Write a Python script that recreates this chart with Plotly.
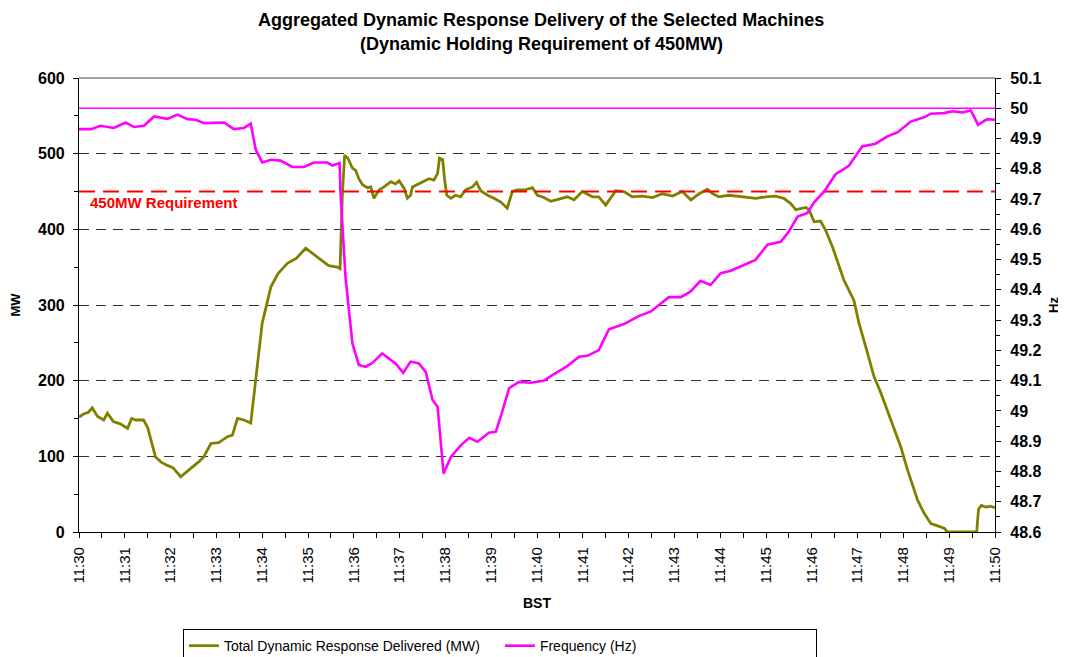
import pandas as pd
import plotly.graph_objects as go

# ---- data (minutes after 11:30 BST) ----
mw_minutes = [0.00, 0.10, 0.20, 0.29, 0.40, 0.54, 0.62, 0.75, 0.90, 1.06, 1.15, 1.24, 1.41, 1.50, 1.67,
              1.80, 1.93, 2.05, 2.22, 2.33, 2.44, 2.60, 2.72, 2.88, 3.05, 3.24, 3.35, 3.46, 3.60, 3.75,
              3.86, 4.00, 4.19, 4.35, 4.55, 4.75, 4.95, 5.10, 5.28, 5.45, 5.64, 5.70, 5.75,
              5.80, 5.87, 5.97, 6.04, 6.11, 6.19, 6.30, 6.37, 6.44, 6.55, 6.66, 6.81, 6.91, 6.99,
              7.10, 7.17, 7.24, 7.28, 7.42, 7.53, 7.64, 7.75, 7.83, 7.87, 7.94, 7.98, 8.03, 8.12,
              8.22, 8.33, 8.44, 8.59, 8.68, 8.77, 8.92, 9.06, 9.21, 9.35, 9.46, 9.57, 9.72, 9.90,
              10.01, 10.15, 10.30, 10.48, 10.66, 10.81, 10.99, 11.21, 11.35, 11.50, 11.65, 11.72,
              11.90, 12.08, 12.30, 12.52, 12.74, 12.96, 13.17, 13.36, 13.54, 13.72, 13.84, 13.97,
              14.19, 14.48, 14.78, 14.99, 15.21, 15.39, 15.54, 15.65, 15.87, 15.94, 16.01, 16.05,
              16.19, 16.30, 16.45, 16.70, 16.92, 17.03, 17.20, 17.36, 17.50, 17.65, 17.80, 17.94,
              18.09, 18.20, 18.31, 18.45, 18.60, 18.75, 18.89, 18.96, 19.30, 19.60, 19.64, 19.70,
              19.80, 19.90, 20.00]
mw_values = [152, 156, 158, 164, 153, 148, 157, 146, 143, 137, 150, 148, 148, 138, 99,
             92, 88, 85, 73, 78, 84, 92, 99, 117, 118, 126, 128, 150, 148, 144,
             205, 276, 324, 342, 355, 362, 375, 368, 359, 352, 350, 348, 445,
             498, 494, 481, 478, 467, 459, 455, 456, 441, 452, 456, 463, 460, 464,
             454, 441, 445, 456, 460, 464, 467, 465, 474, 494, 492, 467, 445, 441,
             445, 443, 452, 456, 462, 451, 445, 441, 436, 428, 450, 452, 452, 455,
             445, 442, 437, 440, 443, 439, 450, 443, 443, 432, 445, 451,
             450, 443, 444, 442, 447, 444, 450, 439, 447, 453, 447, 443,
             445, 443, 441, 443, 444, 441, 434, 426, 429, 426, 417, 410,
             411, 399, 377, 333, 306, 276, 240, 205, 185, 161, 138, 113,
             82, 62, 42, 25, 11, 8, 5, 0, 0, 0, 30, 35,
             33, 34, 32]

hz_minutes = [0.00, 0.26, 0.47, 0.76, 1.02, 1.20, 1.42, 1.64, 1.93, 2.15, 2.37, 2.55, 2.73, 3.17, 3.38,
              3.60, 3.75, 3.86, 4.00, 4.19, 4.40, 4.66, 4.91, 5.13, 5.42, 5.53, 5.69, 5.71, 5.82, 5.97,
              6.11, 6.26, 6.41, 6.62, 6.91, 7.08, 7.24, 7.42, 7.57, 7.72, 7.83, 7.96, 8.12, 8.34, 8.52,
              8.70, 8.95, 9.10, 9.24, 9.39, 9.61, 9.86, 10.15, 10.37, 10.66, 10.92, 11.10, 11.35, 11.57,
              11.90, 12.23, 12.48, 12.88, 13.14, 13.35, 13.57, 13.79, 14.01, 14.23, 14.52, 14.77, 15.03,
              15.32, 15.50, 15.69, 15.90, 16.05, 16.27, 16.52, 16.81, 17.10, 17.39, 17.65, 17.87, 18.16,
              18.45, 18.60, 18.89, 19.07, 19.29, 19.47, 19.54, 19.63, 19.83, 20.00]
hz_values = [49.931, 49.931, 49.942, 49.935, 49.953, 49.938, 49.942, 49.973, 49.965, 49.979, 49.964,
             49.962, 49.951, 49.953, 49.931, 49.935, 49.949, 49.863, 49.821, 49.830, 49.827, 49.806,
             49.806, 49.821, 49.821, 49.811, 49.819, 49.720, 49.440, 49.223, 49.152, 49.146, 49.159,
             49.190, 49.157, 49.126, 49.163, 49.157, 49.129, 49.036, 49.014, 48.793, 48.848, 48.887,
             48.911, 48.898, 48.928, 48.931, 48.997, 49.075, 49.096, 49.093, 49.100, 49.122, 49.148,
             49.179, 49.182, 49.201, 49.270, 49.287, 49.314, 49.328, 49.376, 49.376, 49.394, 49.430,
             49.416, 49.455, 49.463, 49.482, 49.499, 49.549, 49.559, 49.593, 49.642, 49.653, 49.689,
             49.725, 49.782, 49.810, 49.874, 49.883, 49.907, 49.920, 49.956, 49.970, 49.982, 49.984,
             49.990, 49.986, 49.993, 49.973, 49.945, 49.964, 49.962]

requirement_mw = 450
nominal_hz = 50.0
start_time = "2008-05-27 11:30:00"
end_time = "2008-05-27 11:50:00"
title_line1 = "Aggregated Dynamic Response Delivery of the Selected Machines"
title_line2 = "(Dynamic Holding Requirement of 450MW)"

base = pd.Timestamp(start_time)
mw_t = [base + pd.Timedelta(minutes=m) for m in mw_minutes]
hz_t = [base + pd.Timedelta(minutes=m) for m in hz_minutes]

FONT = "Liberation Sans, Arial, sans-serif"

fig = go.Figure()
fig.add_trace(go.Scatter(x=mw_t, y=mw_values, mode="lines", name="Total Dynamic Response Delivered (MW)",
                         line=dict(color="#808000", width=2.8), yaxis="y"))
fig.add_trace(go.Scatter(x=hz_t, y=hz_values, mode="lines", name="Frequency (Hz)",
                         line=dict(color="#FF00FF", width=2.6), yaxis="y2"))
# 450 MW requirement line
fig.add_trace(go.Scatter(x=[base, pd.Timestamp(end_time)], y=[requirement_mw, requirement_mw], mode="lines",
                         line=dict(color="#FF0000", width=2, dash="16px,8px"), showlegend=False,
                         hoverinfo="skip", yaxis="y"))
# 50 Hz nominal line
fig.add_trace(go.Scatter(x=[base, pd.Timestamp(end_time)], y=[nominal_hz, nominal_hz], mode="lines",
                         line=dict(color="#FF00FF", width=1.5), showlegend=False,
                         hoverinfo="skip", yaxis="y2"))

fig.update_layout(
    width=1058, height=649,
    margin=dict(l=71, r=71, t=70, b=125),
    paper_bgcolor="white", plot_bgcolor="white",
    font=dict(family=FONT, color="black"),
    xaxis=dict(type="date", range=[start_time, end_time], tickformat="%H:%M", dtick=60000,
               tick0=start_time, tickangle=-90, ticks="outside", ticklen=5, tickcolor="black",
               ticklabelstandoff=3,
               tickfont=dict(size=15), showline=True, linecolor="black", linewidth=1.2,
               showgrid=False, zeroline=False, automargin=False,
               minor=dict(dtick=30000, ticks="outside", ticklen=5, tickcolor="black", showgrid=False),
               title=dict(text="<b>BST</b>", font=dict(size=14), standoff=15)),
    yaxis=dict(range=[0, 600], dtick=100, ticks="outside", ticklen=5, tickcolor="black",
               ticklabelstandoff=5,
               tickfont=dict(size=16, family=FONT, weight="bold"), showline=True, linecolor="black",
               linewidth=1.2, showgrid=True, gridcolor="#333333", griddash="10px,7px", gridwidth=1,
               zeroline=False, automargin=False,
               minor=dict(dtick=50, ticks="outside", ticklen=4, tickcolor="black", showgrid=False),
               title=dict(text="<b>MW</b>", font=dict(size=13), standoff=14)),
    yaxis2=dict(range=[48.6, 50.1], dtick=0.1, overlaying="y", side="right", ticks="outside", ticklen=5,
                ticklabelstandoff=6,
                tickcolor="black", tickfont=dict(size=16, family=FONT, weight="bold"), showline=True,
                linecolor="black", linewidth=1.2, showgrid=False, zeroline=False, automargin=False,
                minor=dict(dtick=0.05, ticks="outside", ticklen=4, tickcolor="black", showgrid=False),
                title=dict(text="<b>Hz</b>", font=dict(size=13), standoff=8)),
    legend=dict(orientation="h", x=0.4595, xanchor="center", xref="paper",
                y=0.043, yanchor="top", yref="container",
                bordercolor="black", borderwidth=1, bgcolor="white", font=dict(size=14),
                entrywidth=271, entrywidthmode="pixels"),
    shapes=[dict(type="line", xref="paper", yref="paper", x0=0, x1=1, y0=1, y1=1,
                 line=dict(color="#808080", width=1.5))],
    annotations=[
        dict(text="<b>" + title_line1 + "</b>", xref="paper", yref="paper", x=0.5044, y=1.1278,
             xanchor="center", yanchor="middle", showarrow=False, font=dict(size=18)),
        dict(text="<b>" + title_line2 + "</b>", xref="paper", yref="paper", x=0.5044, y=1.0749,
             xanchor="center", yanchor="middle", showarrow=False, font=dict(size=18)),
        dict(text="<b>450MW Requirement</b>", xref="paper", yref="y", x=0.0098, y=435,
             xanchor="left", yanchor="middle", showarrow=False,
             font=dict(size=15, color="#FF0000")),
    ],
)

fig.write_html("out.html")
